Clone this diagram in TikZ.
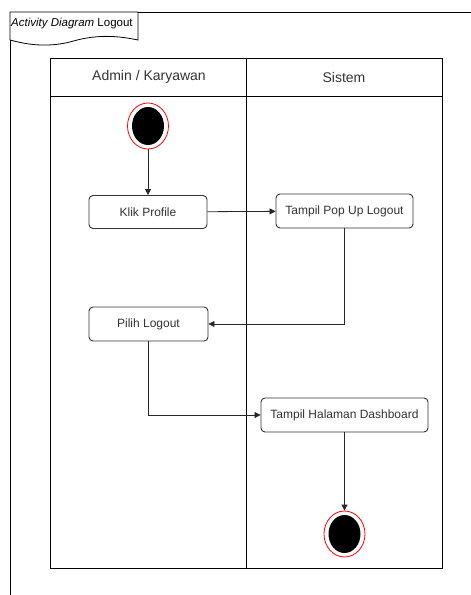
\documentclass[tikz,border=0pt]{standalone}
\usepackage{fontspec}
\setmainfont{Liberation Sans}
\usetikzlibrary{arrows.meta,shapes.geometric}
\definecolor{txt}{HTML}{333333}
\definecolor{ln}{HTML}{333333}
\tikzset{
  act/.style={draw=ln, line width=0.9pt, rounded corners=4pt, fill=white, text=txt, font=\fontsize{12}{14}\selectfont, inner sep=0pt},
  flow/.style={draw=black!85, line width=0.8pt, -{Triangle[length=6pt,width=6pt]}},
  endpt/.style={ellipse, draw=red, line width=0.8pt, fill=white, minimum width=41pt, minimum height=46pt, inner sep=0pt},
  pool/.style={draw=black, line width=0.8pt},
}
\begin{document}
\begin{tikzpicture}[x=1pt,y=-1pt]
\useasboundingbox (0,0) rectangle (471,595);
% outer frame
\draw[pool] (471,12) -- (10,12) -- (10,600);
% title tab
\draw[pool, fill=white] (10,12) -- (138,12) -- (138,40) .. controls (110,34) and (90,36) .. (70,42) .. controls (45,48) and (25,44) .. (10,40) -- cycle;
\node[anchor=west, text=black, font=\fontsize{11.5}{13}\selectfont, inner sep=0pt] (title) at (11,24) {\textit{Activity Diagram} Logout};
% pool
\draw[pool] (50,58) rectangle (442,568);
\draw[pool] (50,96) -- (442,96);
\draw[pool] (246,58) -- (246,568);
\node[text=txt, font=\fontsize{14}{16}\selectfont] (lane1) at (149,77) {Admin / Karyawan};
\node[text=txt, font=\fontsize{14}{16}\selectfont] (lane2) at (344,77) {Sistem};
% start / end
\node[endpt] (start) at (148,126) {};
\fill (start.center) ellipse (16pt and 19pt);
\node[endpt] (end) at (344.5,534) {};
\fill (end.center) ellipse (16pt and 19pt);
% activities
\node[act, minimum width=118pt, minimum height=33pt] (klik) at (148,212) {Klik Profile};
\node[act, minimum width=137pt, minimum height=34pt] (popup) at (344.5,211) {Tampil Pop Up Logout};
\node[act, minimum width=119pt, minimum height=34pt] (pilih) at (148.5,324) {Pilih Logout};
\node[act, minimum width=167pt, minimum height=34pt] (dash) at (344.5,415) {Tampil Halaman Dashboard};
% flows
\draw[flow] (start) -- (klik);
\draw[flow] (klik) -- (popup);
\draw[flow] (popup.south) |- (pilih.east);
\draw[flow] (pilih.south) |- (dash.west);
\draw[flow] (dash) -- (end);
\end{tikzpicture}
\end{document}
